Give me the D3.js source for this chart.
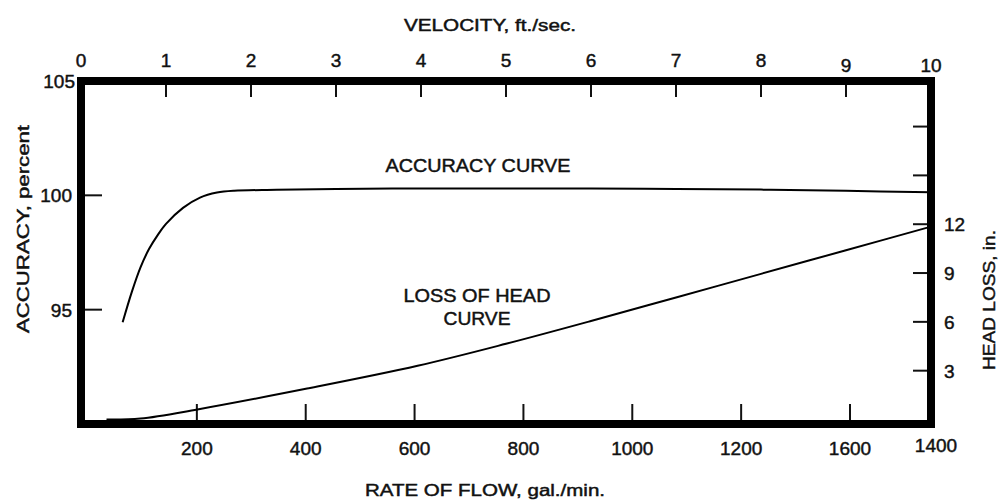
<!DOCTYPE html>
<html>
<head>
<meta charset="utf-8">
<script src="https://cdn.jsdelivr.net/npm/d3@7"></script>
<style>
    body { margin: 0; background: #fff; }
    svg text { font-family: "Liberation Sans", Arial, sans-serif; fill: #111; stroke: #111; stroke-width: 0.45; }
</style>
</head>
<body>
<div id="chart"></div>
<script>
// axis ticks
const velocityTicks = [0, 1, 2, 3, 4, 5, 6, 7, 8, 9, 10];
const accuracyTicks = [95, 100];
const accuracyLabels = [95, 100, 105];
const headLossTicks = [3, 6, 9, 12, 15, 18];
const headLossLabels = [3, 6, 9, 12];
const flowTicks = [200, 400, 600, 800, 1000, 1200, 1400];
const flowTickLabels = ["200", "400", "600", "800", "1000", "1200", "1600"];
const flowEndLabel = "1400";

// accuracy curve (velocity ft/sec -> accuracy %)
const accVelocity = [0.49, 0.6, 0.7, 0.8, 0.9, 1.0, 1.2, 1.4, 1.6, 1.8, 2.3, 3, 4, 5, 6, 7, 8, 9, 10];
const accValues = [94.45, 95.8, 96.85, 97.65, 98.25, 98.75, 99.45, 99.9, 100.12, 100.2, 100.24, 100.28, 100.3, 100.3, 100.3, 100.28, 100.25, 100.2, 100.13];

// loss of head curve (velocity ft/sec -> head loss in.)
const lossVelocity = [0.3, 0.7, 1.37, 2.66, 3.96, 5, 6, 7, 8, 9, 10];
const lossValues = [0, 0.06, 0.62, 1.9, 3.3, 4.65, 6.05, 7.5, 8.95, 10.4, 11.85];

function HeadLossChart() {
    const width = 1000, height = 500;
    const left = 81, right = 931, top = 81, bottom = 424;

    const svg = d3.select("#chart").append("svg")
        .attr("width", width)
        .attr("height", height)
        .attr("viewBox", [0, 0, width, height]);

    const x = d3.scaleLinear().domain([0, 10]).range([left, right]);
    const xFlow = d3.scaleLinear().domain([0, 1400]).range([88, 850]);
    const yAcc = d3.scaleLinear().domain([90, 105]).range([bottom, top]);
    const yLoss = d3.scaleLinear().domain([0, 20.8]).range([419.5, top]);

    // ticks pointing inward
    svg.append("g").selectAll("line")
        .data(velocityTicks.slice(1, -1))
        .join("line")
        .attr("x1", d => x(d)).attr("x2", d => x(d))
        .attr("y1", top).attr("y2", top + 16)
        .attr("stroke", "#111").attr("stroke-width", 2);

    svg.append("g").selectAll("line")
        .data(flowTicks)
        .join("line")
        .attr("x1", d => xFlow(d)).attr("x2", d => xFlow(d))
        .attr("y1", bottom).attr("y2", bottom - 20)
        .attr("stroke", "#111").attr("stroke-width", 2);

    svg.append("g").selectAll("line")
        .data(accuracyTicks)
        .join("line")
        .attr("x1", left).attr("x2", left + 21)
        .attr("y1", d => yAcc(d)).attr("y2", d => yAcc(d))
        .attr("stroke", "#111").attr("stroke-width", 2);

    svg.append("g").selectAll("line")
        .data(headLossTicks)
        .join("line")
        .attr("x1", right - 18).attr("x2", right)
        .attr("y1", d => yLoss(d)).attr("y2", d => yLoss(d))
        .attr("stroke", "#111").attr("stroke-width", 2);

    // frame
    svg.append("rect")
        .attr("x", left).attr("y", top)
        .attr("width", right - left).attr("height", bottom - top)
        .attr("fill", "none")
        .attr("stroke", "#000")
        .attr("stroke-width", 8);

    // tick labels
    svg.append("g").attr("text-anchor", "middle").attr("font-size", 19)
        .selectAll("text")
        .data(velocityTicks)
        .join("text")
        .attr("x", d => x(d))
        .attr("y", d => d >= 9 ? 72 : 67)
        .text(d => d);

    svg.append("g").attr("text-anchor", "middle").attr("font-size", 19)
        .selectAll("text")
        .data(flowTicks)
        .join("text")
        .attr("x", d => xFlow(d))
        .attr("y", 455)
        .text((d, i) => flowTickLabels[i]);

    svg.append("text")
        .attr("text-anchor", "middle").attr("font-size", 19)
        .attr("x", x(10) + 5).attr("y", 452)
        .text(flowEndLabel);

    svg.append("g").attr("text-anchor", "end").attr("font-size", 19)
        .selectAll("text")
        .data(accuracyLabels)
        .join("text")
        .attr("x", d => d === 105 ? 75 : 72)
        .attr("y", d => yAcc(d) + 7)
        .text(d => d);

    svg.append("g").attr("text-anchor", "start").attr("font-size", 19)
        .selectAll("text")
        .data(headLossLabels)
        .join("text")
        .attr("x", 944)
        .attr("y", d => yLoss(d) + 7)
        .text(d => d);

    // axis titles
    svg.append("text")
        .attr("text-anchor", "middle").attr("font-size", 16)
        .attr("x", 490).attr("y", 31)
        .attr("textLength", 172).attr("lengthAdjust", "spacingAndGlyphs")
        .text("VELOCITY, ft./sec.");

    svg.append("text")
        .attr("text-anchor", "middle").attr("font-size", 16)
        .attr("x", 485).attr("y", 496)
        .attr("textLength", 240).attr("lengthAdjust", "spacingAndGlyphs")
        .text("RATE OF FLOW, gal./min.");

    svg.append("text")
        .attr("text-anchor", "middle").attr("font-size", 17)
        .attr("transform", "translate(29,229) rotate(-90)")
        .attr("textLength", 208).attr("lengthAdjust", "spacingAndGlyphs")
        .text("ACCURACY, percent");

    svg.append("text")
        .attr("text-anchor", "middle").attr("font-size", 17)
        .attr("transform", "translate(995,300) rotate(-90)")
        .attr("textLength", 140).attr("lengthAdjust", "spacingAndGlyphs")
        .text("HEAD LOSS, in.");

    // curves
    const accLine = d3.line()
        .x((d, i) => x(accVelocity[i]))
        .y(d => yAcc(d))
        .curve(d3.curveCatmullRom.alpha(0.5));

    const lossLine = d3.line()
        .x((d, i) => x(lossVelocity[i]))
        .y(d => yLoss(d))
        .curve(d3.curveCatmullRom.alpha(0.5));

    svg.append("path")
        .attr("d", accLine(accValues))
        .attr("fill", "none").attr("stroke", "#000").attr("stroke-width", 2);

    svg.append("path")
        .attr("d", lossLine(lossValues))
        .attr("fill", "none").attr("stroke", "#000").attr("stroke-width", 2);

    // curve labels
    svg.append("text")
        .attr("text-anchor", "middle").attr("font-size", 18)
        .attr("x", 478).attr("y", 172)
        .attr("textLength", 185).attr("lengthAdjust", "spacingAndGlyphs")
        .text("ACCURACY CURVE");

    svg.append("text")
        .attr("text-anchor", "middle").attr("font-size", 18)
        .attr("x", 477).attr("y", 302)
        .attr("textLength", 147).attr("lengthAdjust", "spacingAndGlyphs")
        .text("LOSS OF HEAD");

    svg.append("text")
        .attr("text-anchor", "middle").attr("font-size", 18)
        .attr("x", 477).attr("y", 325)
        .attr("textLength", 67).attr("lengthAdjust", "spacingAndGlyphs")
        .text("CURVE");
}

HeadLossChart();
</script>
</body>
</html>
